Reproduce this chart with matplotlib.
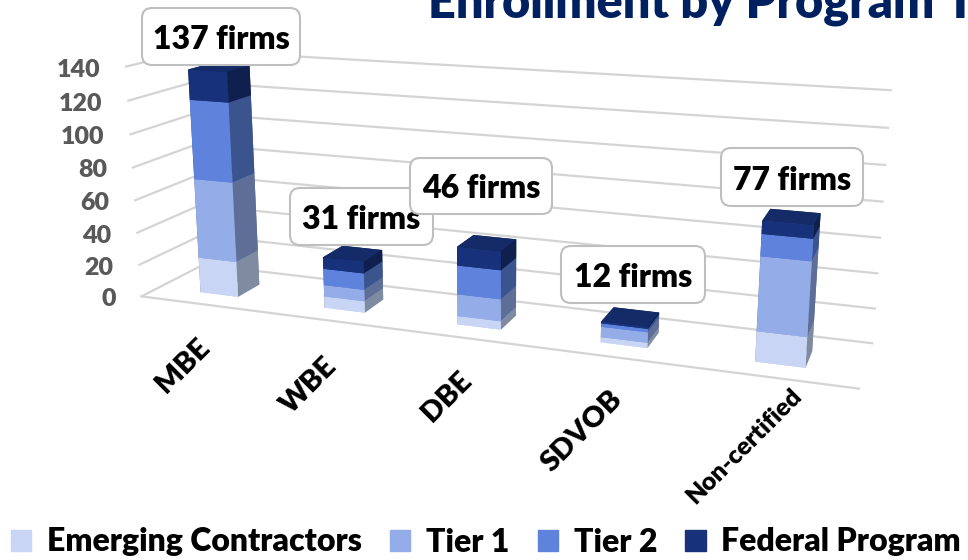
import numpy as np
import matplotlib
matplotlib.use('Agg')
import matplotlib.pyplot as plt
from matplotlib.patches import FancyBboxPatch, Patch
from matplotlib.transforms import IdentityTransform
from mpl_toolkits.mplot3d import proj3d

plt.rcParams['font.family'] = ['Lato', 'DejaVu Sans']
plt.rcParams['font.weight'] = 'heavy'

categories = ['MBE', 'WBE', 'DBE', 'SDVOB', 'Non-certified']
series_names = ['Emerging Contractors', 'Tier 1', 'Tier 2', 'Federal Program']
emerging = [22, 7, 5, 3, 17]
tier1 = [49, 7, 13, 6, 41]
tier2 = [48, 10, 17, 2, 12]
federal = [18, 7, 11, 1, 7]
callouts = ['137 firms', '31 firms', '46 firms', '12 firms', '77 firms']
yticks = [0, 20, 40, 60, 80, 100, 120, 140]

front_cols = ['#C9D5F5', '#94ADE8', '#5F82DC', '#17327A']
side_cols = ['#7F8BA0', '#5E6E96', '#3C548E', '#0F204F']
top_cols = ['#C9D5F5', '#94ADE8', '#5F82DC', '#152B68']

W, H = 968, 560
fig = plt.figure(figsize=(W/100, H/100), dpi=100)
# numbers below come from a fit of the 3d camera to the wall corners
ax = fig.add_axes([90.0/W, (H-599.3)/H, 775.8/W, 775.8/H], projection='3d', computed_zorder=False)
ax.set_xlim(0, 5, view_margin=0)
ax.set_ylim(0, 1, view_margin=0)
ax.set_zlim(0, 140, view_margin=0)
ax.view_init(14.438, -69.562, 0.062)
ax.set_proj_type('persp', focal_length=0.3281)
ax.set_box_aspect((6.0859, 1, 2.0187))
ax.set_axis_off()
ax.patch.set_alpha(0)
M = ax.get_proj()

def label3d(x, y, z, txt, dx, dy, **kw):
    # place 2d text next to a projected 3d point
    px, py, _ = proj3d.proj_transform(x, y, z, M)
    ax.annotate(txt, (px, py), xytext=(dx, dy), textcoords='offset pixels', annotation_clip=False, **kw)

grid_col = '#D4D4D4'
for v in yticks:
    ax.plot([0, 0], [0, 1], [v, v], color=grid_col, lw=1.6, zorder=1, clip_on=False)
    ax.plot([0, 5], [1, 1], [v, v], color=grid_col, lw=1.6, zorder=1, clip_on=False)
    label3d(0, 0, v, str(v), -26, -3, ha='right', va='center', fontsize=18, color='#595959')
ax.plot([0, 5], [0, 0], [0, 0], color=grid_col, lw=1.6, zorder=1, clip_on=False)

bar_w = 0.31
bar_d = 0.37
y0 = 0.28
data = [emerging, tier1, tier2, federal]
z = 2
for i in range(len(categories)):
    bottom = 0
    for j in range(4):
        # faces: bottom, top, front, back, left, right
        cols = [front_cols[j], top_cols[j], front_cols[j], side_cols[j], side_cols[j], side_cols[j]]
        ax.bar3d(i + 0.5 - bar_w/2, y0, bottom, bar_w, bar_d, data[j][i], color=cols, shade=False,
                 linewidth=0, zorder=z)
        z += 1
        bottom += data[j][i]

label_sizes = [21, 21, 21, 21, 18]
label_offs = [(3, -39), (3, -41), (1, -38), (4, -38), (24, -14)]
for i, name in enumerate(categories):
    label3d(i + 0.5, 0, 0, name, label_offs[i][0], label_offs[i][1], rotation=45, ha='right', va='center',
            rotation_mode='anchor', fontsize=label_sizes[i], color='black')

# callout boxes, pixel layout, later ones sit on top
boxes = [(142, 8, 158, 57), (290, 188, 143, 57), (410, 158, 142, 56), (561, 246, 144, 57), (721, 148, 142, 58)]
zo = 5
for txt, (bx, by, bw, bh) in zip(callouts, boxes):
    fig.add_artist(FancyBboxPatch((bx, H-by-bh), bw, bh, boxstyle='round,pad=0,rounding_size=10',
                                  fc='white', ec='#BFBFBF', lw=1.5, transform=IdentityTransform(), zorder=zo))
    fig.text((bx+bw/2)/W, 1-(by+bh/2+3)/H, txt, ha='center', va='center', fontsize=23, color='black', zorder=zo+1)
    zo += 2

fig.text(428/W, 1-17/H, 'Enrollment by Program T', fontsize=35, color='#002060', va='baseline', ha='left')

handles = [Patch(color=c) for c in front_cols]
fig.legend(handles, series_names, loc='center', bbox_to_anchor=(486/W, 1-542/H), ncol=4, frameon=False,
           fontsize=23, handlelength=0.63, handleheight=0.63, columnspacing=0.88, handletextpad=0.5)

fig.savefig('out.png', dpi=100)
